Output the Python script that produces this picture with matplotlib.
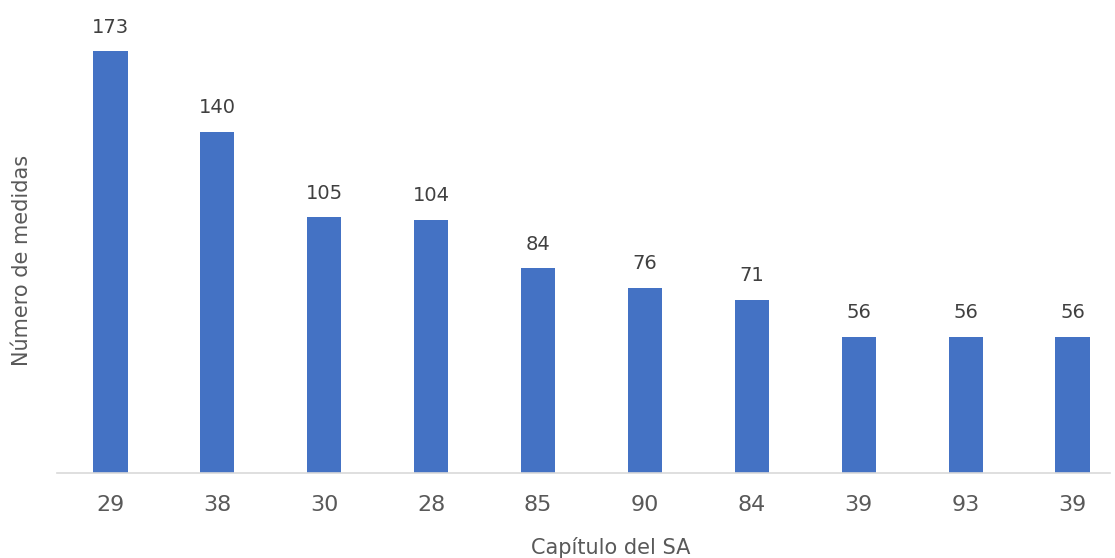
import numpy as np
import matplotlib.pyplot as plt

# Datos
capitulos = ['29', '38', '30', '28', '85', '90', '84', '39', '93', '39']
medidas = [173, 140, 105, 104, 84, 76, 71, 56, 56, 56]

W, H = 1115, 558
fig = plt.figure(figsize=(W / 100, H / 100), dpi=100)
ax = fig.add_axes([57 / W, 85 / H, (1110 - 57) / W, (473 - 10) / H])

x = np.arange(len(capitulos))
ax.bar(x, medidas, width=0.32, color='#4472C4')

for xi, v in zip(x, medidas):
    ax.text(xi, v + 6, str(v), ha='center', va='bottom', fontsize=14, color='#404040')

ax.set_xlim(-0.5, len(capitulos) - 0.65)
ax.set_ylim(0, 190)
ax.set_xticks(x)
ax.set_xticklabels(capitulos, fontsize=16, color='#595959')
ax.tick_params(axis='x', length=0, pad=16)
ax.set_yticks([])

for s in ['top', 'right', 'left']:
    ax.spines[s].set_visible(False)
ax.spines['bottom'].set_color('#D9D9D9')
ax.spines['bottom'].set_linewidth(1.2)

# titulos de los ejes
fig.text(611 / W, 1 - 547 / H, 'Capítulo del SA', fontsize=15, color='#595959',
         ha='center', va='center')
fig.text(22 / W, 1 - 260 / H, 'Número de medidas', fontsize=15, color='#595959',
         ha='center', va='center', rotation=90)

fig.savefig('out.png', dpi=100)
